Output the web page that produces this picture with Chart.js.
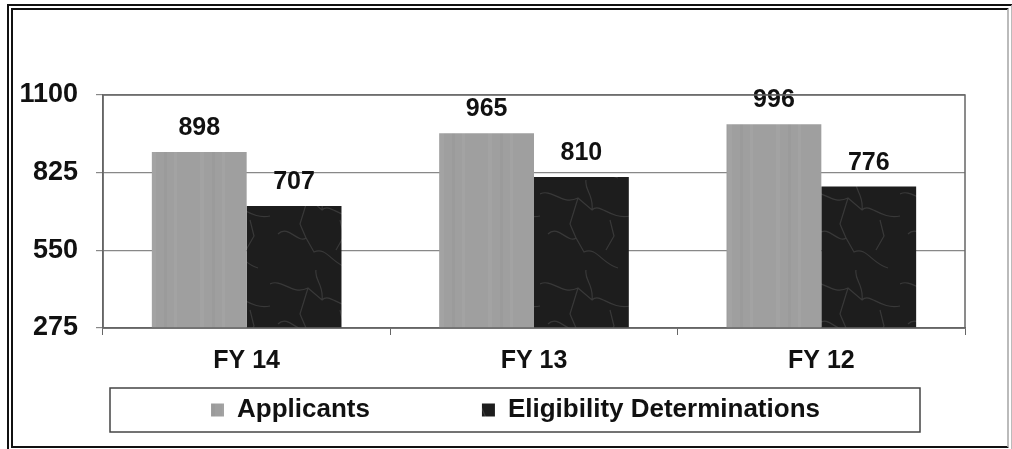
<!DOCTYPE html>
<html>
<head>
<meta charset="utf-8">
<script src="https://cdn.jsdelivr.net/npm/chart.js@4.4.0/dist/chart.umd.min.js"></script>
<style>
  html, body { margin: 0; padding: 0; background: #fff; }
  #frame {
    position: absolute; left: 7px; top: 4px; width: 994px; height: 436px;
    border: 6px double #111; border-right-color: #bbb;
  }
  #myChart { position: absolute; left: 0; top: 0; }
</style>
</head>
<body>
<div id="frame"></div>
<canvas id="myChart" width="1012" height="449"></canvas>
<script>
var categories = ['FY 14', 'FY 13', 'FY 12'];
var applicants = [898, 965, 996];
var eligibility = [707, 810, 776];
var yTicks = [275, 550, 825, 1100];

var fontFamily = "'Liberation Sans', Arial, sans-serif";
Chart.defaults.font.family = fontFamily;
Chart.defaults.color = '#111';

// marble-ish fill for the dark bars
function darkTexture() {
    var c = document.createElement('canvas');
    c.width = 90; c.height = 90;
    var g = c.getContext('2d');
    g.fillStyle = '#1d1d1d';
    g.fillRect(0, 0, 90, 90);
    g.strokeStyle = 'rgba(110,110,110,0.35)';
    g.lineWidth = 1.2;
    g.beginPath();
    g.moveTo(0, 14); g.bezierCurveTo(12, 8, 22, 26, 38, 18);
    g.lineTo(52, 30); g.bezierCurveTo(60, 22, 70, 40, 90, 36);
    g.moveTo(46, 0); g.bezierCurveTo(44, 10, 54, 14, 52, 30);
    g.moveTo(8, 54); g.bezierCurveTo(18, 44, 28, 64, 36, 58);
    g.lineTo(44, 72); g.bezierCurveTo(56, 66, 62, 84, 78, 88);
    g.moveTo(36, 58); g.lineTo(30, 44); g.lineTo(38, 18);
    g.moveTo(70, 40); g.lineTo(74, 56); g.lineTo(66, 70);
    g.stroke();
    return g.createPattern(c, 'repeat');
}

function greyTexture() {
    var c = document.createElement('canvas');
    c.width = 48; c.height = 48;
    var g = c.getContext('2d');
    g.fillStyle = '#9f9f9f';
    g.fillRect(0, 0, 48, 48);
    g.fillStyle = 'rgba(185,185,185,0.18)';
    g.fillRect(8, 0, 4, 48);
    g.fillRect(30, 0, 3, 48);
    g.fillStyle = 'rgba(130,130,130,0.12)';
    g.fillRect(20, 0, 3, 48);
    return g.createPattern(c, 'repeat');
}

// value labels above each bar
var barLabels = {
    id: 'barLabels',
    afterDatasetsDraw: function (chart) {
        var ctx = chart.ctx;
        ctx.save();
        ctx.font = 'bold 25px ' + fontFamily;
        ctx.fillStyle = '#111';
        ctx.textAlign = 'center';
        ctx.textBaseline = 'alphabetic';
        chart.data.datasets.forEach(function (ds, i) {
            chart.getDatasetMeta(i).data.forEach(function (bar, j) {
                ctx.fillText(ds.data[j], bar.x, bar.y - 17);
            });
        });
        ctx.restore();
    }
};

var legendPad = 112;

// box round the plot area and round the legend
var boxes = {
    id: 'boxes',
    afterLayout: function (chart) {
        chart.legend.left += 33;
        chart.legend.right += 33;
        chart.legend.top -= legendPad - 10;
    },
    afterDraw: function (chart) {
        var ctx = chart.ctx;
        var a = chart.chartArea;
        ctx.save();
        ctx.strokeStyle = '#666';
        ctx.lineWidth = 1.5;
        ctx.strokeRect(a.left, a.top, a.right - a.left, a.bottom - a.top);
        ctx.strokeStyle = '#444';
        ctx.lineWidth = 1.5;
        ctx.strokeRect(110, 388, 810, 44);
        ctx.restore();
    }
};

var ctx = document.getElementById('myChart').getContext('2d');
var chart = new Chart(ctx, {
    type: 'bar',
    data: {
        labels: categories,
        datasets: [{
            label: 'Applicants',
            backgroundColor: greyTexture(),
            data: applicants
        }, {
            label: 'Eligibility Determinations',
            backgroundColor: darkTexture(),
            data: eligibility
        }]
    },
    options: {
        responsive: false,
        animation: false,
        devicePixelRatio: 1,
        layout: { padding: { left: 0, right: 47, top: 95, bottom: 16 } },
        datasets: { bar: { barPercentage: 1, categoryPercentage: 0.66 } },
        plugins: {
            legend: {
                position: 'bottom',
                maxHeight: 46,
                labels: {
                    boxWidth: 13, boxHeight: 13, padding: legendPad,
                    color: '#111',
                    font: { size: 26, weight: 'bold' }
                }
            },
            tooltip: { enabled: false }
        },
        scales: {
            x: {
                grid: { offset: true, drawOnChartArea: false, drawTicks: true, tickLength: 7, color: '#666' },
                border: { color: '#666', width: 1.5 },
                ticks: { font: { size: 25, weight: 'bold' }, color: '#111', padding: 11 },
                afterFit: function (s) { s.height = 59; }
            },
            y: {
                min: 275, max: 1100,
                afterBuildTicks: function (s) { s.ticks = yTicks.map(function (v) { return { value: v }; }); },
                grid: { color: '#888', lineWidth: 1.2, tickLength: 7 },
                border: { color: '#666', width: 1.5 },
                ticks: {
                    font: { size: 27, weight: 'bold' }, color: '#111', padding: 18,
                    callback: function (v) { return String(v); }
                },
                afterFit: function (s) { s.width = 103; }
            }
        }
    },
    plugins: [barLabels, boxes]
});
</script>
</body>
</html>
